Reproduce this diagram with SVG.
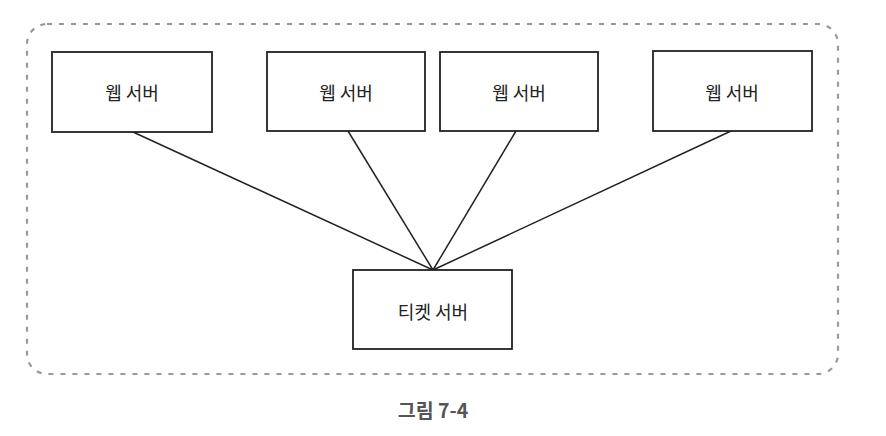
<svg xmlns="http://www.w3.org/2000/svg" width="886" height="436" viewBox="0 0 886 436">
<style>
.box{fill:#fff;stroke:#222;stroke-width:1.8}
.lbl{font-family:"Noto Sans CJK KR","Noto Sans",sans-serif;font-size:18px;fill:#222;text-anchor:middle;dominant-baseline:central}
.edge{stroke:#222;stroke-width:1.5;fill:none}
.frame{fill:none;stroke:#999;stroke-width:2.2;stroke-dasharray:5 7}
.cap{font-family:"Noto Sans CJK KR","Noto Sans",sans-serif;font-size:19.5px;font-weight:bold;fill:#555;text-anchor:middle}
</style>
<rect class="frame" x="27" y="24" width="811" height="350" rx="20" ry="20"/>
<g id="connectors">
<line class="edge" x1="133" y1="132" x2="433" y2="270"/>
<line class="edge" x1="348" y1="131" x2="433" y2="270"/>
<line class="edge" x1="516" y1="131" x2="433" y2="270"/>
<line class="edge" x1="731" y1="131" x2="433" y2="270"/>
</g>
<g id="web1"><rect class="box" x="52" y="52" width="160" height="80"/><text class="lbl" x="132" y="92">웹 서버</text></g>
<g id="web2"><rect class="box" x="267" y="52" width="158" height="79"/><text class="lbl" x="346" y="92">웹 서버</text></g>
<g id="web3"><rect class="box" x="440" y="52" width="158" height="79"/><text class="lbl" x="519" y="92">웹 서버</text></g>
<g id="web4"><rect class="box" x="653" y="51" width="159" height="80"/><text class="lbl" x="732" y="92">웹 서버</text></g>
<g id="ticket"><rect class="box" x="353" y="270" width="159" height="79"/><text class="lbl" x="433" y="311">티켓 서버</text></g>
<text class="cap" x="433" y="418">그림 7-4</text>
</svg>
